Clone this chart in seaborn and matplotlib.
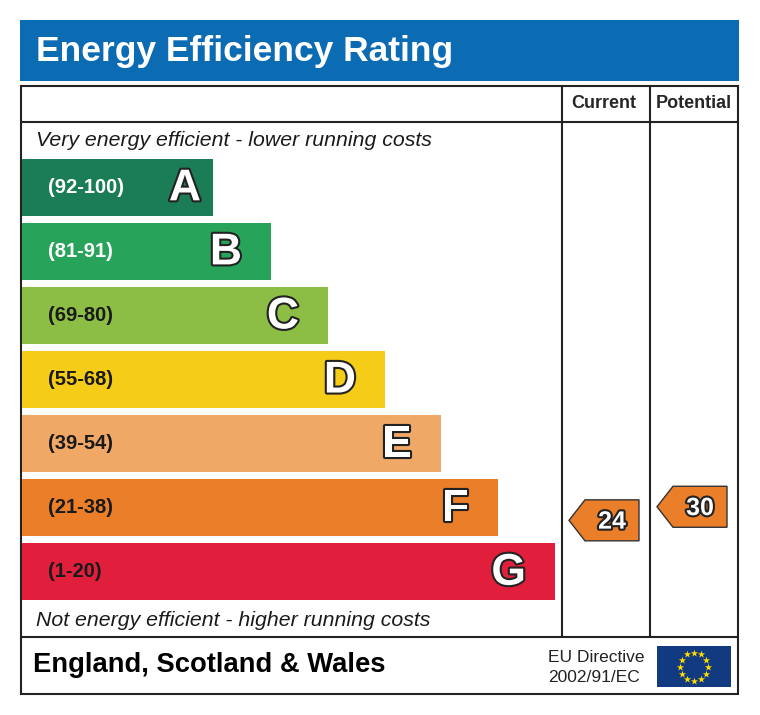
import numpy as np
import matplotlib
matplotlib.use("Agg")
import matplotlib.pyplot as plt
import matplotlib.patheffects as pe
from matplotlib.patches import Rectangle, Polygon
import seaborn as sns

sns.set_style("white")
plt.rcParams["font.family"] = ["Liberation Sans", "DejaVu Sans"]

# data
bands = ["A", "B", "C", "D", "E", "F", "G"]
band_ranges = ["(92-100)", "(81-91)", "(69-80)", "(55-68)", "(39-54)", "(21-38)", "(1-20)"]
band_lo = [92, 81, 69, 55, 39, 21, 1]
band_hi = [100, 91, 80, 68, 54, 38, 20]
bar_len = [191, 249, 306, 363, 419, 476, 533]
band_colors = ["#1b7d55", "#27a45a", "#8cbd44", "#f5cc17", "#f0a867", "#ea7e29", "#e11f3d"]
label_colors = ["white", "white", "#1a1a1a", "#1a1a1a", "#1a1a1a", "#1a1a1a", "#1a1a1a"]
current_score = 24
potential_score = 30

fig = plt.figure(figsize=(7.6, 7.15), dpi=100)

# background axes in pixel units for frame and texts
bg = fig.add_axes([0, 0, 1, 1])
bg.set_xlim(0, 760)
bg.set_ylim(715, 0)
bg.axis("off")

line = "#222222"
bg.add_patch(Rectangle((20, 20), 719, 61, color="#0b6bb3", lw=0))
bg.text(36, 51, "Energy Efficiency Rating", color="white", fontsize=25.5,
        fontweight="bold", va="center", ha="left")

bg.add_patch(Rectangle((21, 86), 717, 608, fill=False, ec=line, lw=1.5))
bg.plot([21, 738], [122, 122], color=line, lw=1.5)
bg.plot([21, 738], [637, 637], color=line, lw=1.5)
bg.plot([562, 562], [86, 637], color=line, lw=1.5)
bg.plot([650, 650], [86, 637], color=line, lw=1.5)

bg.text(604, 104, "Current", fontsize=13, fontweight="bold", ha="center", va="center")
bg.text(694, 104, "Potential", fontsize=13, fontweight="bold", ha="center", va="center")
bg.text(36, 140, "Very energy efficient - lower running costs", fontsize=15.3,
        style="italic", ha="left", va="center", color="#1a1a1a")
bg.text(36, 620, "Not energy efficient - higher running costs", fontsize=15.3,
        style="italic", ha="left", va="center", color="#1a1a1a")
bg.text(33, 665, "England, Scotland & Wales", fontsize=19.7, fontweight="bold",
        ha="left", va="center", color="black")
bg.text(548, 657, "EU Directive", fontsize=12.5, ha="left", va="center", color="#222222")
bg.text(548, 678, "2002/91/EC", fontsize=12.5, ha="left", va="center", color="#222222")

# EU flag
bg.add_patch(Rectangle((657, 646), 74, 41, color="#123a80", lw=0))
ang = np.linspace(0, 2 * np.pi, 12, endpoint=False)
bg.scatter(694 + 14 * np.cos(ang), 666.5 + 14 * np.sin(ang), marker="*", s=30,
           color="#ffdd00", lw=0, zorder=5)

# rating bars
top_px, bot_px = 155.5, 604
ax = fig.add_axes([22 / 760, 1 - bot_px / 715, 716 / 760, (bot_px - top_px) / 715])
sns.barplot(x=bar_len, y=bands, hue=bands, palette=band_colors, legend=False,
            orient="h", width=0.89, linewidth=0, saturation=1, ax=ax)
ax.set_xlim(0, 716)
ax.set_ylim(6.5, -0.5)
ax.axis("off")
ax.patch.set_alpha(0)

outline = [pe.withStroke(linewidth=3, foreground="#222222")]
for i, (b, r) in enumerate(zip(bands, band_ranges)):
    ax.text(26, i, r, fontsize=14.5, fontweight="bold", color=label_colors[i],
            ha="left", va="center")
    gap = 12 if i == 0 else 29
    ax.text(bar_len[i] - gap, i + 0.02, b, fontsize=32, fontweight="bold", color="white",
            ha="right", va="center", path_effects=outline)


def score_pos(score):
    for i, (lo, hi) in enumerate(zip(band_lo, band_hi)):
        if lo <= score <= hi:
            return i + ((lo + hi) / 2 - score) / (hi - lo) * 0.6
    return 6


def arrow(score, col_left):
    y = score_pos(score)
    color = band_colors[int(round(y))]
    tip = col_left + 7
    h = 0.32
    pts = [(tip, y), (tip + 16, y - h), (tip + 70, y - h), (tip + 70, y + h), (tip + 16, y + h)]
    ax.add_patch(Polygon(pts, closed=True, fc=color, ec="#333333", lw=1))
    ax.text(tip + 43, y + 0.02, str(score), fontsize=18, fontweight="bold", color="white",
            ha="center", va="center", path_effects=outline)


arrow(current_score, 562 - 22)
arrow(potential_score, 650 - 22)

fig.savefig("out.png", dpi=100, facecolor="white")
